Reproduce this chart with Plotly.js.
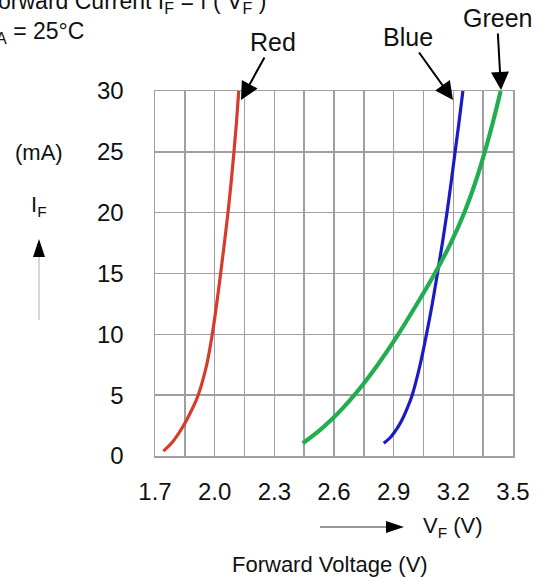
<!DOCTYPE html>
<html>
<head>
<meta charset="utf-8">
<script src="https://cdn.plot.ly/plotly-3.0.1.min.js"></script>
<style>html,body{margin:0;padding:0;background:#fff;}#chart{width:543px;height:578px;}</style>
</head>
<body>
<div id="chart"></div>
<script>
// Forward voltage (V) and forward current (mA)
const redV   = [1.742, 1.790, 1.840, 1.885, 1.917, 1.960, 1.988, 2.010, 2.030, 2.049, 2.067, 2.083, 2.097, 2.110, 2.121];
const redI   = [0.4,   1.2,   2.4,   3.8,   5.0,   7.5,   10.0,  12.5,  15.0,  17.5,  20.0,  22.5,  25.0,  27.5,  30.0];
const blueV  = [2.850, 2.882, 2.906, 2.926, 2.943, 2.970, 2.993, 3.033, 3.065, 3.094, 3.120, 3.145, 3.168, 3.189, 3.209, 3.229, 3.248];
const blueI  = [1.05,  1.5,   2.0,   2.5,   3.0,   4.0,   5.0,   7.5,   10.0,  12.5,  15.0,  17.5,  20.0,  22.5,  25.0,  27.5,  30.0];
const greenV = [2.443, 2.520, 2.588, 2.648, 2.702, 2.763, 2.820, 2.923, 3.017, 3.107, 3.187, 3.255, 3.311, 3.358, 3.400, 3.438];
const greenI = [1.05,  2.0,   3.0,   4.0,   5.0,   6.25,  7.5,   10.0,  12.5,  15.0,  17.5,  20.0,  22.5,  25.0,  27.5,  30.0];

const xTickVals = [1.7, 2.0, 2.3, 2.6, 2.9, 3.2, 3.5];
const xTickText = ['1.7', '2.0', '2.3', '2.6', '2.9', '3.2', '3.5'];
const xMinorVals = [1.85, 2.15, 2.45, 2.75, 3.05, 3.35];
const yTickVals = [0, 5, 10, 15, 20, 25, 30];
const yTickText = ['0', '5', '10', '15', '20', '25', '30'];

const W = 543, H = 578, L = 155, R = 30, T = 91, B = 122;
const pw = W - L - R, ph = H - T - B;
const px = v => (v - L) / pw;       // pixel -> paper x
const py = v => (H - B - v) / ph;   // pixel -> paper y

const FONT = 'Liberation Sans, Arial, Helvetica, sans-serif';
const GRID = '#a0a0a0';

const traces = [
  {x: redV, y: redI, mode: 'lines', line: {color: '#d63b2b', width: 3.2, shape: 'spline', smoothing: 1}, hoverinfo: 'skip'},
  {x: blueV, y: blueI, mode: 'lines', line: {color: '#1b1bc4', width: 3.2, shape: 'spline', smoothing: 1}, hoverinfo: 'skip'},
  {x: greenV, y: greenI, mode: 'lines', line: {color: '#22ad4e', width: 4.2, shape: 'spline', smoothing: 1}, hoverinfo: 'skip'}
];

function tri(pts) {
  return 'M' + pts.map(p => px(p[0]) + ',' + py(p[1])).join(' L') + ' Z';
}

const arrowStyle = {showarrow: true, arrowhead: 2, arrowsize: 1.8, arrowwidth: 2, arrowcolor: '#000', standoff: 0};

const layout = {
  width: W, height: H,
  margin: {l: L, r: R, t: T, b: B, pad: 0},
  paper_bgcolor: '#ffffff', plot_bgcolor: '#ffffff',
  showlegend: false,
  font: {family: FONT, size: 22, color: '#111'},
  xaxis: {
    range: [1.7, 3.5], tickmode: 'array', tickvals: xTickVals, ticktext: xTickText,
    minor: {tickmode: 'array', tickvals: xMinorVals, showgrid: true, gridcolor: GRID, gridwidth: 1.5, ticks: ''},
    showgrid: true, gridcolor: GRID, gridwidth: 1.5, zeroline: false,
    showline: true, linecolor: GRID, linewidth: 1.5, mirror: true,
    ticks: '', ticklabelstandoff: 14, tickfont: {size: 24, family: FONT, color: '#111'}
  },
  yaxis: {
    range: [0, 30], tickmode: 'array', tickvals: yTickVals, ticktext: yTickText,
    showgrid: true, gridcolor: GRID, gridwidth: 1.5, zeroline: false,
    showline: true, linecolor: GRID, linewidth: 1.5, mirror: true,
    ticks: '', ticklabelstandoff: 25, tickfont: {size: 24, family: FONT, color: '#111'}
  },
  annotations: [
    Object.assign({xref: 'paper', yref: 'paper', x: px(241), y: py(100), ax: 32, ay: -58, text: 'Red',
     font: {size: 25, family: FONT, color: '#111'}}, arrowStyle),
    Object.assign({xref: 'paper', yref: 'paper', x: px(453), y: py(100), ax: -45, ay: -63, text: 'Blue',
     font: {size: 25, family: FONT, color: '#111'}}, arrowStyle),
    Object.assign({xref: 'paper', yref: 'paper', x: px(501), y: py(90), ax: -4, ay: -72, text: 'Green',
     font: {size: 25, family: FONT, color: '#111'}}, arrowStyle),
    {xref: 'paper', yref: 'paper', x: px(268), y: py(2), xanchor: 'right', yanchor: 'middle', showarrow: false,
     text: 'Forward Current I<sub>F</sub> = f ( V<sub>F</sub> )', font: {size: 23, family: FONT, color: '#111'}},
    {xref: 'paper', yref: 'paper', x: px(86), y: py(33), xanchor: 'right', yanchor: 'middle', showarrow: false,
     text: 'T<sub>A</sub> = 25°C', font: {size: 23, family: FONT, color: '#111'}},
    {xref: 'paper', yref: 'paper', x: px(39), y: py(152), xanchor: 'center', yanchor: 'middle', showarrow: false,
     text: '(mA)', font: {size: 22, family: FONT, color: '#111'}},
    {xref: 'paper', yref: 'paper', x: px(39), y: py(206), xanchor: 'center', yanchor: 'middle', showarrow: false,
     text: 'I<sub>F</sub>', font: {size: 22, family: FONT, color: '#111'}},
    {xref: 'paper', yref: 'paper', x: px(453), y: py(527), xanchor: 'center', yanchor: 'middle', showarrow: false,
     text: 'V<sub>F</sub> (V)', font: {size: 22, family: FONT, color: '#111'}},
    {xref: 'paper', yref: 'paper', x: px(330), y: py(564), xanchor: 'center', yanchor: 'middle', showarrow: false,
     text: 'Forward Voltage (V)', font: {size: 22, family: FONT, color: '#111'}}
  ],
  shapes: [
    // vertical arrow beside I_F
    {type: 'line', xref: 'paper', yref: 'paper', x0: px(39), x1: px(39), y0: py(320), y1: py(255),
     line: {color: '#c8c8c8', width: 1.5}},
    {type: 'path', xref: 'paper', yref: 'paper', path: tri([[39, 239], [33, 257], [45, 257]]),
     fillcolor: '#000', line: {width: 0}},
    // horizontal arrow beside V_F
    {type: 'line', xref: 'paper', yref: 'paper', x0: px(320), x1: px(390), y0: py(527), y1: py(527),
     line: {color: '#333', width: 1}},
    {type: 'path', xref: 'paper', yref: 'paper', path: tri([[404, 527], [386, 521], [386, 533]]),
     fillcolor: '#000', line: {width: 0}}
  ]
};

Plotly.newPlot('chart', traces, layout, {staticPlot: true, displayModeBar: false});
</script>
</body>
</html>
